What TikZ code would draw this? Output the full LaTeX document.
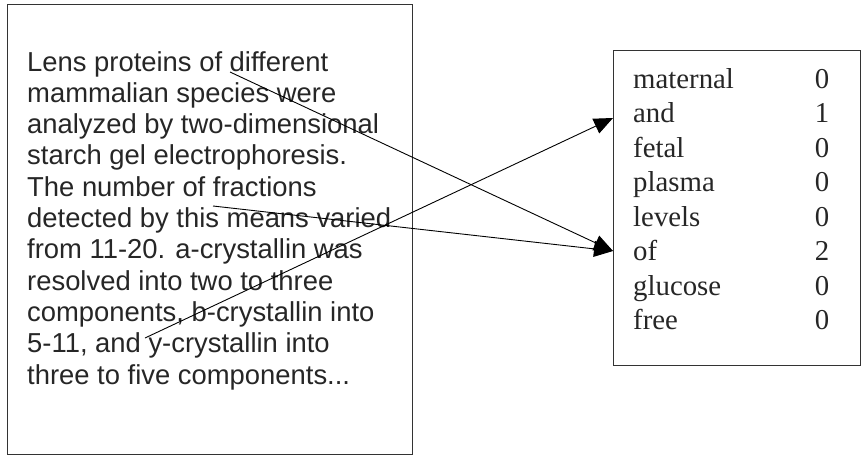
\documentclass[tikz,border=0pt]{standalone}
\usepackage{fontspec}
\setmainfont{Liberation Sans}
\newfontfamily\serifwords{Liberation Serif}
\usetikzlibrary{arrows.meta}
\begin{document}
\begin{tikzpicture}[x=1pt,y=-1pt,
  boxframe/.style={draw=black!80,line width=1pt},
  lefttext/.style={anchor=base west,inner sep=0pt,font=\fontsize{27.4}{31.3}\selectfont,text=black!85},
  rightword/.style={anchor=base west,inner sep=0pt,font=\serifwords\fontsize{28.8}{34.5}\selectfont,text=black!85},
  rightnum/.style={anchor=base,inner sep=0pt,font=\serifwords\fontsize{28.8}{34.5}\selectfont,text=black!85},
  linkarrow/.style={draw=black,line width=0.9pt,-{Triangle[length=19pt,width=16pt]}}]
\useasboundingbox (0,0) rectangle (861,455);
% boxes
\node[boxframe,inner sep=0pt,minimum width=405pt,minimum height=450pt,anchor=north west] (lbox) at (7,4) {};
\node[boxframe,inner sep=0pt,minimum width=247pt,minimum height=315pt,anchor=north west] (rbox) at (613,50) {};
% left text
\foreach \t [count=\i] in {
  {Lens proteins of different},
  {mammalian species were},
  {analyzed by two-dimensional},
  {starch gel electrophoresis.},
  {The number of fractions},
  {detected by this means varied},
  {from 11-20. a-crystallin was},
  {resolved into two to three},
  {components, b-crystallin into},
  {5-11, and y-crystallin into},
  {three to five components.{}.{}.}}
  \node[lefttext] (l\i) at (27,{71+(\i-1)*31.3}) {\t};
% right table
\foreach \w/\n [count=\i] in {maternal/0,and/1,fetal/0,plasma/0,levels/0,of/2,glucose/0,free/0}{
  \node[rightword] (w\i) at (633,{88+(\i-1)*34.5}) {\w};
  \node[rightnum] (n\i) at (822,{88+(\i-1)*34.5}) {\n};
}
% arrow endpoints
\coordinate (s1) at (230,72);
\coordinate (s2) at (213,206);
\coordinate (s3) at (145,338);
\coordinate (tand) at (rbox.north west |- 0,118);
\coordinate (tof) at (rbox.north west |- 0,251);
\draw[linkarrow] (s1) -- (tof);
\draw[linkarrow] (s2) -- (tof);
\draw[linkarrow] (s3) -- (tand);
\end{tikzpicture}
\end{document}
